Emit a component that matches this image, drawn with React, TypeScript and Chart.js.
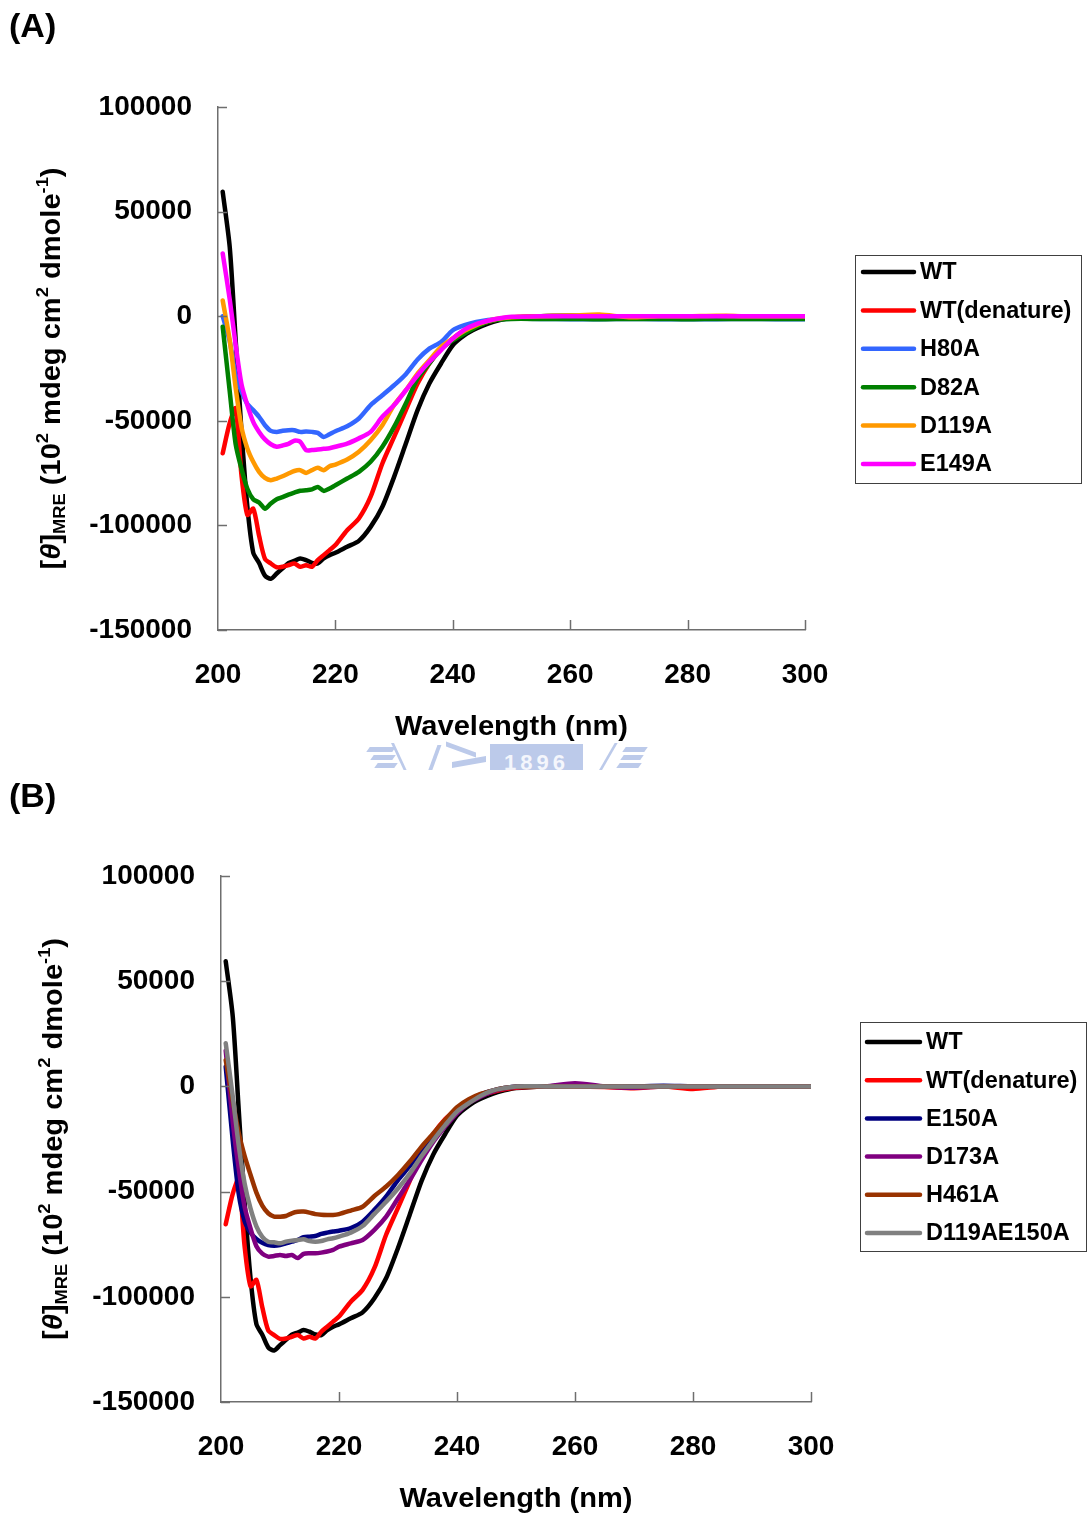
import React, { useEffect, useRef } from "react";
import { Chart, registerables } from "chart.js";

Chart.register(...registerables);

// ---------------- DATA ----------------
const wavelengths = [
  200.8, 202, 203, 204, 205, 206, 207, 208, 209, 210, 211, 212, 213, 214, 215, 216, 217, 218, 219, 220,
  222, 224, 226, 228, 230, 232, 234, 236, 238, 240, 242, 244, 246, 248, 250,
  255, 260, 265, 270, 275, 280, 285, 290, 295, 300,
];

const xTicks = [200, 220, 240, 260, 280, 300];
const yTicks = [-150000, -100000, -50000, 0, 50000, 100000];

const wt = [
  59500, 33000, -11000, -55000, -91000, -113000, -118000, -124000, -125500, -123000, -120500, -118000, -117000, -115800, -116600, -117900, -118200, -115800, -114200, -113100,
  -110200, -107400, -100700, -91100, -76800, -60900, -44900, -32200, -22600, -13900, -9100, -5900, -3500, -1900, -800,
  0, 200, 0, -300, 0, 0, -200, 0, 0, 0,
];
const wtDenature = [
  -65500, -51000, -44000, -76000, -95000, -92000, -105000, -116000, -118200, -120000, -119800, -119000, -118200, -119800, -119000, -119800, -116600, -114200, -111800, -109400,
  -102300, -96700, -86300, -70400, -57700, -44900, -32200, -22600, -15500, -10700, -6700, -4300, -2700, -1400, -600,
  0, 0, -300, -900, 0, -1200, 0, 0, 0, 0,
];
const h80a = [
  0, -12000, -28000, -36000, -42000, -44900, -48100, -52100, -54800, -55300, -54800, -54500, -54500, -55300, -55100, -55300, -55800, -57700, -56400, -55000,
  -52600, -48900, -42500, -37800, -33000, -27700, -20700, -15500, -12300, -6700, -4300, -2800, -1800, -1300, -1200,
  -1300, -1400, -1400, -1300, -1400, -1400, -1400, -1300, -1400, -1400,
];
const d82a = [
  -5000, -36000, -61000, -73000, -82500, -87500, -89000, -92000, -89500, -87500, -86500, -85300, -84300, -83400, -83200, -82800, -81600, -83500, -82400, -80800,
  -77600, -74400, -69600, -62400, -52900, -41700, -29800, -22600, -15500, -11500, -8300, -5100, -2700, -1600, -1300,
  -1300, -1300, -1500, -1300, -1300, -1500, -1300, -1300, -1300, -1300,
];
const d119a = [
  7500, -11500, -34000, -53000, -63200, -69600, -74400, -77300, -78400, -77600, -76500, -75200, -74000, -73600, -74900, -73600, -72500, -73600, -71700, -70900,
  -68500, -64800, -59300, -52100, -42500, -35400, -27400, -21000, -14700, -10700, -7000, -4300, -2200, -1100, -500,
  0, 300, 800, -500, 0, 0, 200, 0, 0, 0,
];
const e149a = [
  30000, 8000, -13500, -32500, -42500, -50500, -55300, -58900, -61200, -62400, -61800, -61000, -59500, -60000, -64000, -64000, -63700, -63400, -63100, -62400,
  -60900, -58400, -55300, -48100, -42500, -35400, -28200, -21800, -16200, -10700, -6400, -3800, -2200, -1000, -300,
  0, 0, 0, 0, 0, 0, 0, 0, 0, 0,
];

const e150a = [
  9400, -26000, -51000, -64000, -69500, -72500, -74300, -75400, -75700, -75400, -74600, -73800, -73000, -71700, -71400, -71100, -70100, -69500, -69000, -68600,
  -67400, -64300, -58700, -52300, -44500, -37800, -30200, -23900, -17600, -11300, -7000, -3800, -2000, -800, 0,
  0, 300, -200, 0, 300, 0, 0, 0, 0, 0,
];
const d173a = [
  17000, -17000, -39000, -57200, -67500, -76000, -79500, -80900, -80600, -80100, -80600, -80100, -81600, -79600, -79300, -79300, -79000, -78500, -77700, -76200,
  -74600, -73000, -68200, -61900, -53200, -44500, -35000, -26300, -19100, -12800, -8000, -4900, -2500, -1000, -300,
  0, 1500, 0, -600, 0, 0, 0, 0, 0, 0,
];
const h461a = [
  12500, -7000, -22000, -33000, -42000, -50500, -56700, -60300, -61900, -61900, -61600, -60300, -59600, -59500, -60000, -60700, -61000, -61100, -61100, -60700,
  -59000, -57200, -52100, -47600, -42100, -35700, -28600, -22300, -15900, -9900, -6100, -3600, -2000, -800, -200,
  0, 0, 0, 0, 0, 0, 0, 0, 0, 0,
];
const d119ae150a = [
  20500, -4900, -28000, -46100, -58000, -66500, -71500, -73800, -74100, -74600, -73800, -73300, -73000, -72700, -73500, -73800, -73500, -72700, -72200, -71400,
  -69500, -66400, -60600, -54800, -48500, -41400, -33100, -25500, -18400, -12000, -8000, -4500, -2000, -800, 0,
  0, 0, 0, 0, 0, 0, 0, 0, 0, 0,
];

const seriesA = [
  { label: "WT", color: "#000000", values: wt },
  { label: "WT(denature)", color: "#FF0000", values: wtDenature },
  { label: "H80A", color: "#3366FF", values: h80a },
  { label: "D82A", color: "#008000", values: d82a },
  { label: "D119A", color: "#FF9900", values: d119a },
  { label: "E149A", color: "#FF00FF", values: e149a },
];
const seriesB = [
  { label: "WT", color: "#000000", values: wt },
  { label: "WT(denature)", color: "#FF0000", values: wtDenature },
  { label: "E150A", color: "#000080", values: e150a },
  { label: "D173A", color: "#800080", values: d173a },
  { label: "H461A", color: "#993300", values: h461a },
  { label: "D119AE150A", color: "#808080", values: d119ae150a },
];

const X_TITLE = "Wavelength (nm)";

// ---------------- STYLE ----------------
const FAM = '"Liberation Sans", Arial, Helvetica, sans-serif';
const AXIS_COLOR = "#6e6e6e";

type PanelCfg = {
  panel: string;
  canvasH: number;
  left: number;
  right: number;
  top: number;
  bottom: number;
  yTitleX: number;
  legend: { left: number; top: number; w: number; h: number; lx0: number; lx1: number; tx: number; row0: number; gap: number };
};

const cfgA: PanelCfg = {
  panel: "(A)",
  canvasH: 770,
  left: 218,
  right: 805,
  top: 107,
  bottom: 630,
  yTitleX: 50,
  legend: { left: 855, top: 255, w: 226, h: 228, lx0: 863, lx1: 914, tx: 920, row0: 272, gap: 38.4 },
};
const cfgB: PanelCfg = {
  panel: "(B)",
  canvasH: 745,
  left: 221,
  right: 811,
  top: 106,
  bottom: 632,
  yTitleX: 52,
  legend: { left: 860, top: 252, w: 226, h: 229, lx0: 867, lx1: 920, tx: 926, row0: 272, gap: 38.2 },
};

function drawYTitle(ctx: CanvasRenderingContext2D, cx: number, cy: number) {
  const MAIN = 27;
  const SMALL = 17;
  const segs: { t: string; font: string; dy: number; w?: number }[] = [
    { t: "[", font: `bold ${MAIN}px ${FAM}`, dy: 0 },
    { t: "θ", font: `italic bold ${MAIN}px ${FAM}`, dy: 0 },
    { t: "]", font: `bold ${MAIN}px ${FAM}`, dy: 0 },
    { t: "MRE", font: `bold ${SMALL}px ${FAM}`, dy: 5 },
    { t: " (10", font: `bold ${MAIN}px ${FAM}`, dy: 0 },
    { t: "2", font: `bold ${SMALL}px ${FAM}`, dy: -12 },
    { t: " mdeg cm", font: `bold ${MAIN}px ${FAM}`, dy: 0 },
    { t: "2", font: `bold ${SMALL}px ${FAM}`, dy: -12 },
    { t: " dmole", font: `bold ${MAIN}px ${FAM}`, dy: 0 },
    { t: "-1", font: `bold ${SMALL}px ${FAM}`, dy: -12 },
    { t: ")", font: `bold ${MAIN}px ${FAM}`, dy: 0 },
  ];
  ctx.save();
  ctx.translate(cx, cy);
  ctx.rotate(-Math.PI / 2);
  let total = 0;
  for (const s of segs) {
    ctx.font = s.font;
    s.w = ctx.measureText(s.t).width;
    total += s.w;
  }
  const target = 402;
  ctx.scale(target / total, 1);
  let x = -total / 2;
  ctx.fillStyle = "#000";
  ctx.textAlign = "left";
  ctx.textBaseline = "alphabetic";
  const base = MAIN * 0.36;
  for (const s of segs) {
    ctx.font = s.font;
    ctx.fillText(s.t, x, base + s.dy);
    x += s.w || 0;
  }
  ctx.restore();
}

function makeDecor(cfg: PanelCfg) {
  return {
    id: "decor" + cfg.panel,
    afterDraw(chart: any) {
      const { ctx, chartArea: ca, scales } = chart;
      const xs = scales.x;
      const ys = scales.y;
      ctx.save();
      // inward tick marks
      ctx.strokeStyle = AXIS_COLOR;
      ctx.lineWidth = 1.5;
      ys.ticks.forEach((t: any) => {
        const py = Math.round(ys.getPixelForValue(t.value)) + 0.5;
        ctx.beginPath();
        ctx.moveTo(ca.left, py);
        ctx.lineTo(ca.left + 9, py);
        ctx.stroke();
      });
      xs.ticks.forEach((t: any) => {
        if (t.value === xs.min) return;
        const px = Math.round(xs.getPixelForValue(t.value)) + 0.5;
        ctx.beginPath();
        ctx.moveTo(px, ca.bottom);
        ctx.lineTo(px, ca.bottom - 10);
        ctx.stroke();
      });
      // x title
      ctx.fillStyle = "#000";
      ctx.font = `bold 28px ${FAM}`;
      ctx.textAlign = "center";
      ctx.textBaseline = "middle";
      ctx.save();
      ctx.translate((ca.left + ca.right) / 2, ca.bottom + 97);
      const w = ctx.measureText(X_TITLE).width;
      ctx.scale(233 / w, 1);
      ctx.fillText(X_TITLE, 0, 0);
      ctx.restore();
      // y title
      drawYTitle(ctx, cfg.yTitleX, (ca.top + ca.bottom) / 2);
      // panel label
      ctx.font = `bold 34px ${FAM}`;
      ctx.textAlign = "left";
      ctx.textBaseline = "middle";
      ctx.fillText(cfg.panel, 9, 28);
      // legend
      const L = cfg.legend;
      ctx.fillStyle = "#fff";
      ctx.fillRect(L.left, L.top, L.w, L.h);
      ctx.strokeStyle = "#404040";
      ctx.lineWidth = 1;
      ctx.strokeRect(L.left + 0.5, L.top + 0.5, L.w, L.h);
      chart.data.datasets.forEach((ds: any, i: number) => {
        const ry = L.row0 + i * L.gap;
        ctx.strokeStyle = ds.borderColor;
        ctx.lineWidth = 4.5;
        ctx.lineCap = "round";
        ctx.beginPath();
        ctx.moveTo(L.lx0, ry);
        ctx.lineTo(L.lx1, ry);
        ctx.stroke();
        ctx.fillStyle = "#000";
        ctx.font = `bold 23.5px ${FAM}`;
        ctx.textAlign = "left";
        ctx.textBaseline = "middle";
        ctx.fillText(ds.label, L.tx, ry + 1);
      });
      ctx.restore();
    },
  };
}

function Panel({ cfg, series }: { cfg: PanelCfg; series: typeof seriesA }) {
  const ref = useRef<HTMLCanvasElement | null>(null);
  useEffect(() => {
    if (!ref.current) return;
    const n = series.length;
    const tickFont = { family: FAM, size: 28, weight: "bold" as const };
    const chart = new Chart(ref.current, {
      type: "line",
      data: {
        datasets: series.map((s, i) => ({
          label: s.label,
          data: wavelengths.map((x, j) => ({ x, y: s.values[j] })),
          borderColor: s.color,
          backgroundColor: s.color,
          borderWidth: 4.5,
          pointRadius: 0,
          tension: 0.25,
          borderJoinStyle: "round" as const,
          borderCapStyle: "round" as const,
          fill: false,
          order: n - i,
        })),
      },
      options: {
        responsive: false,
        animation: false,
        events: [],
        layout: { padding: { left: 0, top: cfg.top, right: 1087 - cfg.right, bottom: 0 } },
        plugins: { legend: { display: false }, tooltip: { enabled: false }, title: { display: false } },
        scales: {
          x: {
            type: "linear",
            min: 200,
            max: 300,
            afterBuildTicks: (s: any) => {
              s.ticks = xTicks.map((v) => ({ value: v }));
            },
            ticks: { font: tickFont, color: "#000", padding: 28, maxRotation: 0, autoSkip: false, callback: (v: any) => String(v) },
            grid: { display: false, drawTicks: false },
            border: { display: true, color: AXIS_COLOR, width: 1.5 },
            afterFit: (s: any) => {
              s.height = cfg.canvasH - cfg.bottom;
            },
          },
          y: {
            type: "linear",
            min: -150000,
            max: 100000,
            afterBuildTicks: (s: any) => {
              s.ticks = yTicks.map((v) => ({ value: v }));
            },
            ticks: { font: tickFont, color: "#000", padding: 26, autoSkip: false, callback: (v: any) => String(v) },
            grid: { display: false, drawTicks: false },
            border: { display: true, color: AXIS_COLOR, width: 1.5 },
            afterFit: (s: any) => {
              s.width = cfg.left;
            },
          },
        },
      },
      plugins: [makeDecor(cfg)],
    } as any);
    return () => chart.destroy();
  }, [cfg, series]);
  return <canvas ref={ref} width={1087} height={cfg.canvasH} style={{ display: "block", width: 1087, height: cfg.canvasH }} />;
}

const WM = "#bccaea";

function Watermark() {
  const base: React.CSSProperties = { position: "absolute", background: WM };
  return (
    <div style={{ position: "absolute", left: 0, top: 741, width: 1087, height: 29, overflow: "hidden" }}>
      <div style={{ ...base, left: 368, top: 6, width: 26, height: 5, transform: "skewX(-35deg)" }} />
      <div style={{ ...base, left: 372, top: 14, width: 22, height: 5, transform: "skewX(-35deg)" }} />
      <div style={{ ...base, left: 376, top: 22, width: 20, height: 5, transform: "skewX(-35deg)" }} />
      <div style={{ ...base, left: 398, top: 2, width: 3, height: 30, transform: "skewX(25deg)" }} />
      <div style={{ ...base, left: 432, top: 4, width: 4, height: 30, transform: "skewX(-20deg)" }} />
      <div style={{ ...base, left: 446, top: 6, width: 30, height: 5, transform: "skewY(20deg)" }} />
      <div style={{ ...base, left: 452, top: 18, width: 34, height: 6, transform: "skewY(-10deg)" }} />
      <div
        style={{
          ...base,
          left: 490,
          top: 3,
          width: 93,
          height: 30,
          color: "#f4f6fc",
          font: `bold 22px ${FAM}`,
          letterSpacing: 4,
          textAlign: "center",
          lineHeight: "38px",
        }}
      >
        1896
      </div>
      <div style={{ ...base, left: 606, top: 2, width: 3, height: 30, transform: "skewX(-30deg)" }} />
      <div style={{ ...base, left: 624, top: 6, width: 22, height: 5, transform: "skewX(-35deg)" }} />
      <div style={{ ...base, left: 622, top: 14, width: 20, height: 5, transform: "skewX(-35deg)" }} />
      <div style={{ ...base, left: 618, top: 22, width: 22, height: 5, transform: "skewX(-35deg)" }} />
    </div>
  );
}

export default function App() {
  return (
    <div style={{ position: "absolute", left: 0, top: 0, width: 1087, height: 1515, background: "#fff", overflow: "hidden" }}>
      <div style={{ position: "absolute", left: 0, top: 0 }}>
        <Panel cfg={cfgA} series={seriesA} />
      </div>
      <Watermark />
      <div style={{ position: "absolute", left: 0, top: 770 }}>
        <Panel cfg={cfgB} series={seriesB} />
      </div>
    </div>
  );
}
